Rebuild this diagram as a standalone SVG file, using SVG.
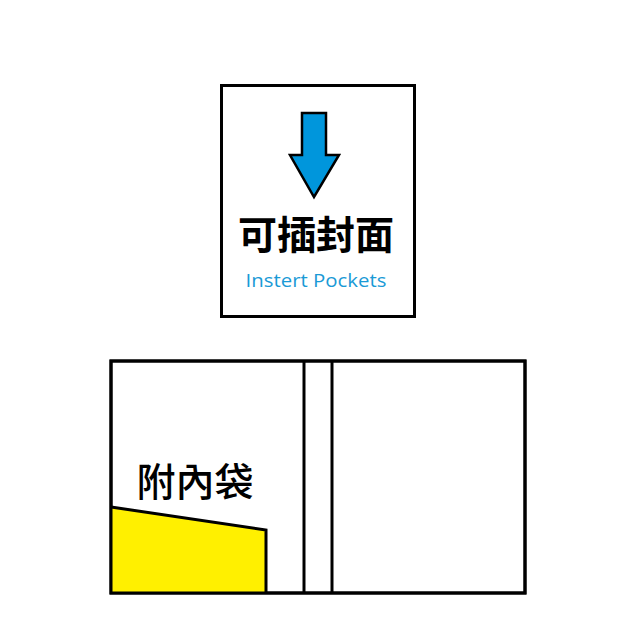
<svg xmlns="http://www.w3.org/2000/svg" width="643" height="644" viewBox="0 0 643 644">
<style>
.box{fill:#fff;stroke:#000;stroke-width:3}
.line{stroke:#000;stroke-width:3;fill:none}
.cjk{font-family:"Noto Sans CJK TC","Noto Sans CJK SC",sans-serif;fill:#000}
</style>
<rect width="643" height="644" fill="#fff"/>
<g id="cover-card">
<rect class="box" x="221.5" y="85.5" width="193" height="231"/>
<polygon points="302,113 326,113 326,155 339,155 314,197 290,155 302,155" fill="#0096dc" stroke="#000" stroke-width="2.5" stroke-linejoin="miter"/>
<text class="cjk" x="316" y="249" font-size="39" font-weight="bold" text-anchor="middle">可插封面</text>
<text x="316" y="287" font-family="'Open Sans',sans-serif" font-size="19" fill="#1a9ad6" text-anchor="middle" textLength="141" lengthAdjust="spacingAndGlyphs">Instert Pockets</text>
</g>
<g id="folder">
<rect class="box" x="111" y="361" width="414" height="232"/>
<polygon points="111,507 266,530 266,593 111,593" fill="#fff000"/>
<polyline class="line" points="111,507 266,530 266,593"/>
<line class="line" x1="304" y1="361" x2="304" y2="593"/>
<line class="line" x1="332" y1="361" x2="332" y2="593"/>
<rect x="111" y="361" width="414" height="232" fill="none" stroke="#000" stroke-width="3"/>
<text class="cjk" x="195" y="496" font-size="39" font-weight="500" text-anchor="middle">附內袋</text>
</g>
</svg>
